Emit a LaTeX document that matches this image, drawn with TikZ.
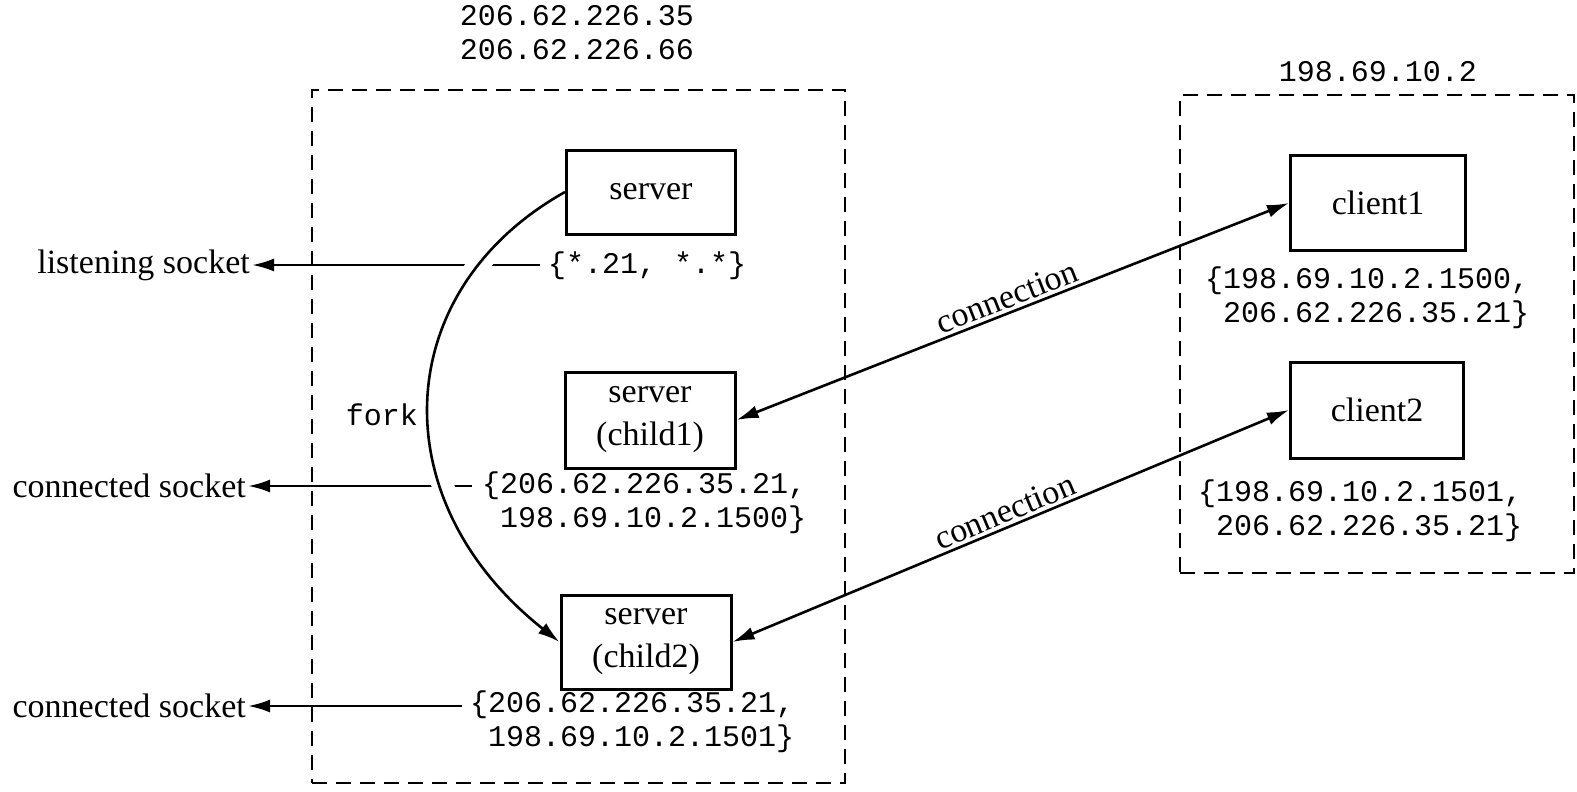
\documentclass[tikz,border=0pt]{standalone}
\usepackage{fontspec}
\setmainfont{Liberation Serif}
\setmonofont{Liberation Mono}
\usetikzlibrary{arrows.meta,backgrounds}
\newcommand\serifbig{\fontsize{34}{43}\selectfont}
\newcommand\monobig{\ttfamily\fontsize{30}{34}\selectfont}
\begin{document}
\begin{tikzpicture}[x=1pt,y=-1pt,
  proc/.style={draw, line width=3pt, minimum width=170pt, inner sep=0pt, align=center, font=\serifbig, fill=white},
  host/.style={draw, dash pattern=on 15pt off 9pt, line width=2.8pt, inner sep=0pt},
  addr/.style={font=\monobig, align=left, anchor=west, inner sep=0pt},
  lbl/.style={font=\serifbig, anchor=east, inner sep=2pt},
  tip/.style={-{Latex[length=22pt,width=13pt]}},
  conn/.style={line width=2.6pt, {Latex[length=22pt,width=13pt]}-{Latex[length=22pt,width=13pt]}},
  sock/.style={line width=2.6pt, tip},
  connlbl/.style={sloped, above, font=\serifbig, inner sep=3pt},
]
\useasboundingbox (0,0) rectangle (1577,792);

% hosts
\node[host, minimum width=533pt, minimum height=693pt] (hostS) at (578.5,436.5) {};
\node[host, minimum width=394pt, minimum height=478pt] (hostC) at (1377,334) {};

% process boxes
\node[proc, minimum width=169pt, minimum height=84pt] (srv) at (651,192) {server};
\node[proc, minimum height=96pt] (ch1) at (650,420) {server\\(child1)};
\node[proc, minimum height=94pt] (ch2) at (646,642) {server\\(child2)};
\node[proc, minimum width=175pt, minimum height=95pt] (cl1) at (1378,203) {client1};
\node[proc, minimum width=173pt, minimum height=96pt] (cl2) at (1377,410) {client2};

% texts
\node[font=\monobig, align=left, inner sep=0pt] (ipS) at (577,33) {206.62.226.35\\206.62.226.66};
\node[font=\monobig, inner sep=0pt] (ipC) at (1378,72) {198.69.10.2};
\node[addr] (aL) at (548,266) {\{*.21, *.*\}};
\node[addr] (a1) at (482,503) {\{206.62.226.35.21,\\\hphantom{\{}198.69.10.2.1500\}};
\node[addr] (a2) at (470,722) {\{206.62.226.35.21,\\\hphantom{\{}198.69.10.2.1501\}};
\node[addr] (c1a) at (1205,298) {\{198.69.10.2.1500,\\\hphantom{\{}206.62.226.35.21\}};
\node[addr] (c2a) at (1198,511) {\{198.69.10.2.1501,\\\hphantom{\{}206.62.226.35.21\}};
\node[lbl] (lL) at (252,265) {listening socket};
\node[lbl] (l1) at (248,486) {connected socket};
\node[lbl] (l2) at (248,706) {connected socket};
\node[font=\monobig, inner sep=0pt] (fk) at (382,415) {fork};

\begin{scope}[on background layer]
  \draw[sock] ([xshift=-8pt]lL.east -| aL.west) -- (lL.east);
  \draw[sock] ([xshift=-10pt]l1.east -| a1.west) -- (l1.east);
  \draw[sock] ([xshift=-8pt]l2.east -| a2.west) -- (l2.east);
  \draw[line width=2.6pt, tip, preaction={draw=white, line width=22pt, -}]
    (srv.west) .. controls (390,290) and (380,500) .. (ch2.west);
\end{scope}

% connections
\draw[conn] (ch1.east) -- node[connlbl] {connection} (cl1.west);
\draw[conn] (ch2.east) -- node[connlbl] {connection} (cl2.west);
\end{tikzpicture}
\end{document}
